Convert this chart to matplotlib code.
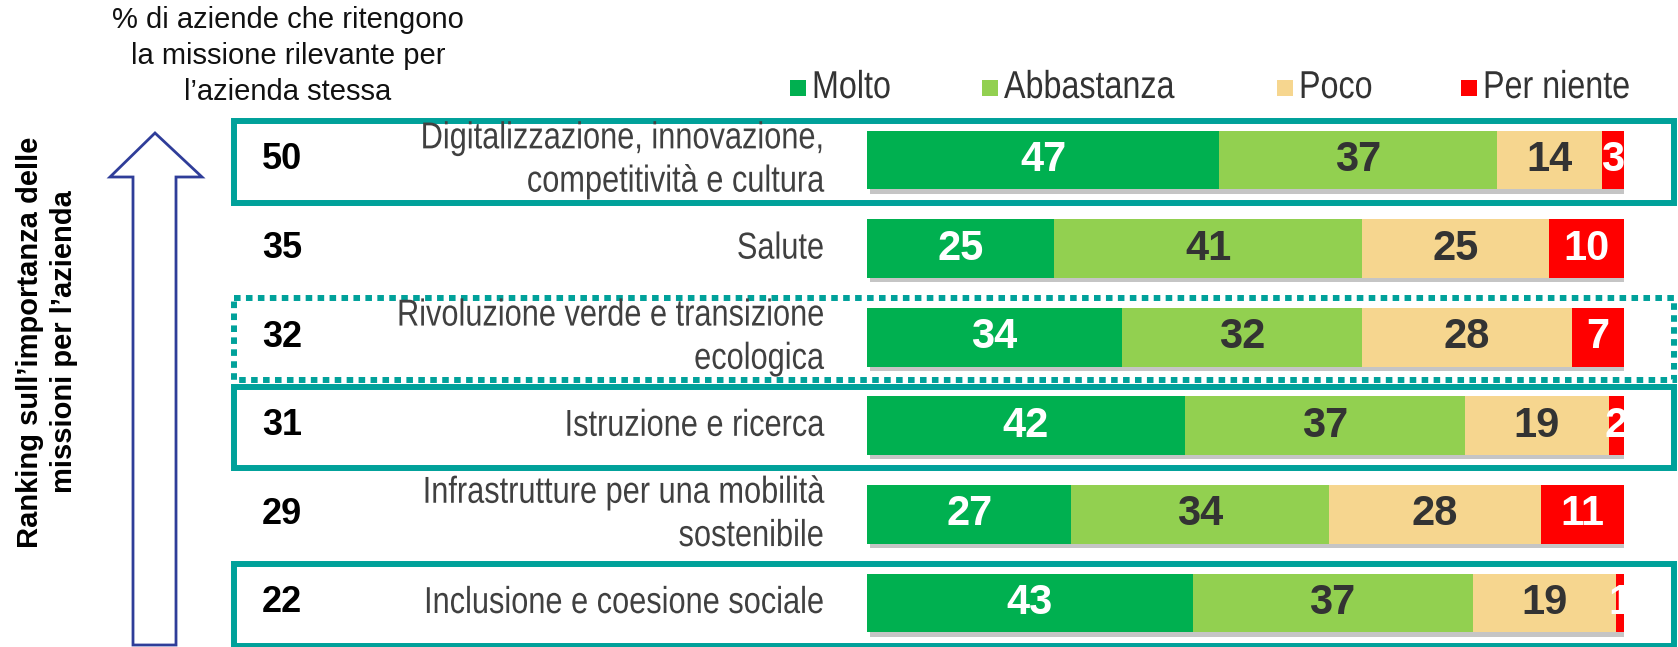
import numpy as np
import matplotlib
matplotlib.use('Agg')
import matplotlib.pyplot as plt
from matplotlib import patheffects, transforms
from matplotlib.patches import Rectangle, Polygon

# dati
missioni = ['Digitalizzazione, innovazione,\ncompetitività e cultura',
            'Salute',
            'Rivoluzione verde e transizione\necologica',
            'Istruzione e ricerca',
            'Infrastrutture per una mobilità\nsostenibile',
            'Inclusione e coesione sociale']
ranking = [50, 35, 32, 31, 29, 22]
molto = [47, 25, 34, 42, 27, 43]
abbastanza = [37, 41, 32, 37, 34, 37]
poco = [14, 25, 28, 19, 28, 19]
per_niente = [3, 10, 7, 2, 11, 1]
livelli = ['Molto', 'Abbastanza', 'Poco', 'Per niente']
colori = ['#00B050', '#92D050', '#F6D68F', '#FF0000']
colori_testo = ['white', '#333333', '#333333', 'white']
riquadri = {0: 'solid', 2: (0, (1.1, 0.9)), 3: 'solid', 5: 'solid'}

plt.rcParams['font.family'] = ['Liberation Sans', 'DejaVu Sans']


class Stretto(patheffects.AbstractPathEffect):
    """Comprime il testo in orizzontale attorno al suo punto di ancoraggio (font 'narrow')."""

    def __init__(self, testo, sx):
        super().__init__()
        self.testo = testo
        self.sx = sx

    def draw_path(self, renderer, gc, tpath, affine, rgbFace=None):
        x0 = self.testo.get_transform().transform(self.testo.get_position())[0]
        t = affine + transforms.Affine2D().translate(-x0, 0).scale(self.sx, 1).translate(x0, 0)
        renderer.draw_path(gc, tpath, t, rgbFace)


def testo_stretto(asse, x, y, s, sx, **kw):
    t = asse.text(x, y, s, **kw)
    t.set_path_effects([Stretto(t, sx)])
    return t


W, H = 1678, 647
fig = plt.figure(figsize=(W / 100, H / 100), dpi=100)

# sfondo in pixel per riquadri, freccia e testi
bg = fig.add_axes([0, 0, 1, 1])
bg.set_xlim(0, W)
bg.set_ylim(H, 0)
bg.axis('off')

# asse delle barre
y0, dy = 160, 88.6
ax = fig.add_axes([867 / W, 0, 757 / W, 1])
ax.set_xlim(0, 100)
ax.set_ylim((H - y0) / dy, -y0 / dy)
ax.axis('off')

serie = np.array([molto, abbastanza, poco, per_niente], dtype=float)
totali = serie.sum(axis=0)
quote = serie / totali * 100
righe = np.arange(len(missioni))

ombra = [patheffects.SimplePatchShadow(offset=(2, -3), shadow_rgbFace='#808080', alpha=0.45),
         patheffects.Normal()]
sinistra = np.zeros(len(missioni))
for k in range(4):
    barre = ax.barh(righe, quote[k], left=sinistra, height=0.665, color=colori[k],
                    linewidth=0, path_effects=ombra)
    ax.bar_label(barre, labels=[str(v) for v in serie[k].astype(int)], label_type='center',
                 color=colori_testo[k], fontsize=30, fontweight='bold')
    sinistra += quote[k]

trans = transforms.blended_transform_factory(bg.transData, ax.transData)

# riquadri attorno alle missioni
for i, stile in riquadri.items():
    bg.add_patch(Rectangle((234, i - 0.46 + 0.02), 1674 - 234, 0.92, transform=trans, fill=False,
                           edgecolor='#00A19A', linewidth=4.3, linestyle=stile, clip_on=False))

# etichette di riga
for i in righe:
    bg.text(262, i, str(ranking[i]), transform=trans, ha='left', va='center',
            fontsize=26, fontweight='bold', color='black')
    testo_stretto(bg, 824, i, missioni[i], 0.82, transform=trans, ha='right', va='center',
                  fontsize=27, color='#404040', linespacing=1.26, multialignment='right')

# legenda
legenda_x = [790, 982, 1277, 1461]
for xl, c, l in zip(legenda_x, colori, livelli):
    bg.add_patch(Rectangle((xl, 80), 16, 16, facecolor=c, edgecolor='none'))
    testo_stretto(bg, xl + 22, 88, l, 0.83, ha='left', va='center', fontsize=28,
                  color='#333333')

# titolo in alto a sinistra
bg.text(288, 56, '% di aziende che ritengono\nla missione rilevante per\nl’azienda stessa',
        ha='center', va='center', fontsize=21, linespacing=1.35, color='#111111')

# freccia
freccia = Polygon([(155, 133), (202, 177), (176, 177), (176, 645), (133, 645),
                   (133, 177), (110, 177)], closed=True, fill=False,
                  edgecolor='#2F3D99', linewidth=2)
bg.add_patch(freccia)

bg.text(47, 342, 'Ranking sull’importanza delle\nmissioni per l’azienda', rotation=90,
        ha='center', va='center', fontsize=21, fontweight='bold', linespacing=1.28,
        multialignment='center')

fig.savefig('out.png', dpi=100)
